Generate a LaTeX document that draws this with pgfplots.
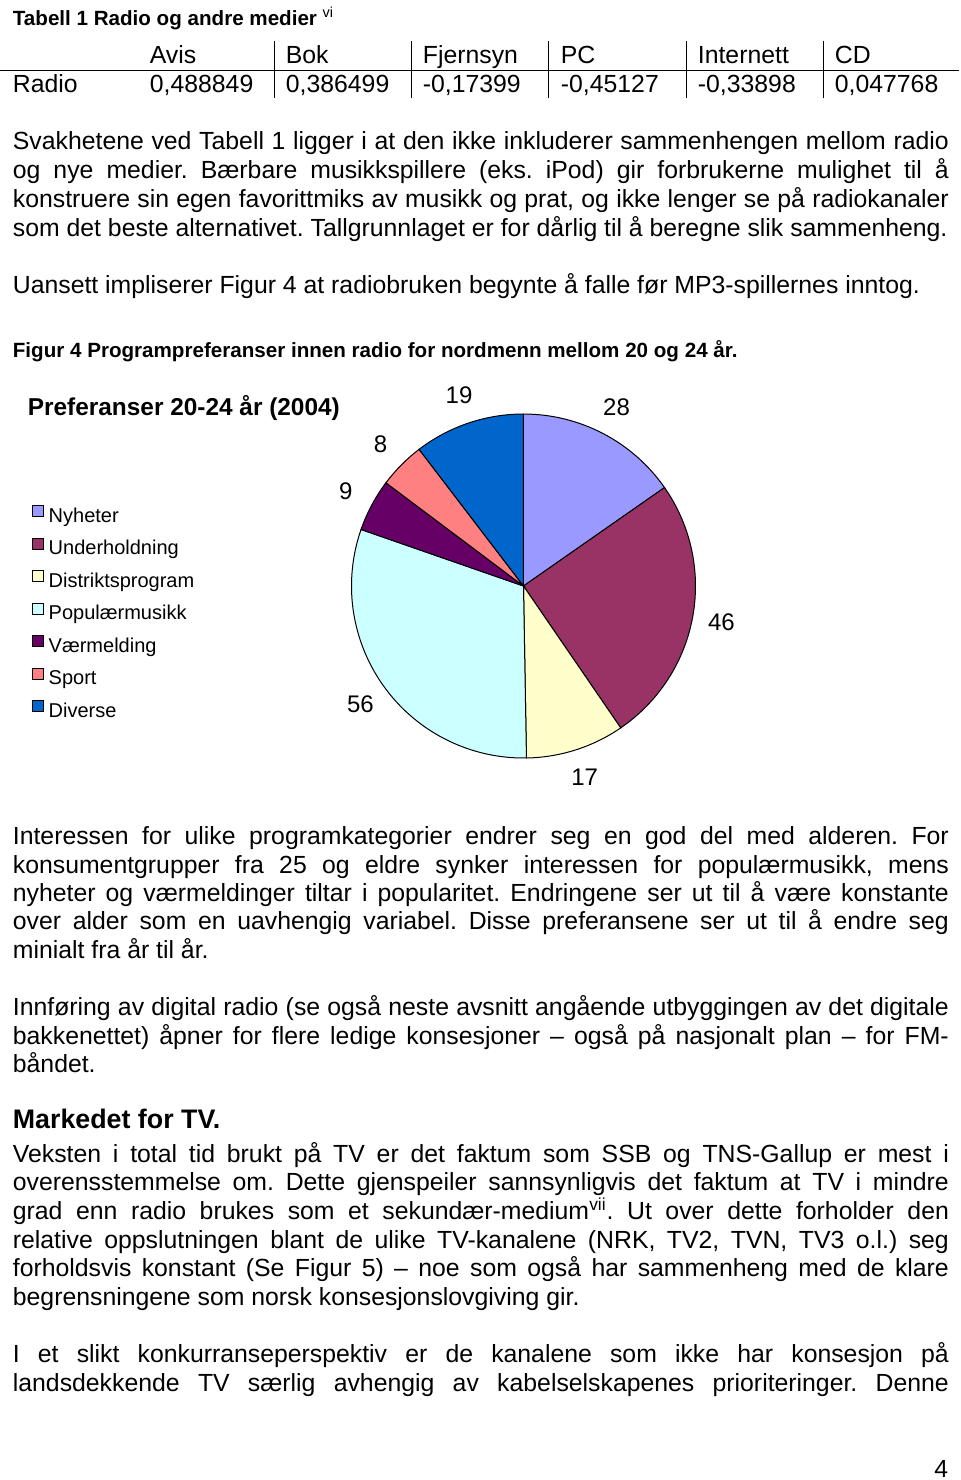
\documentclass[border=0pt]{standalone}
\usepackage{fontspec}
\setmainfont{Liberation Sans}
\usepackage{pgfplots}
\usepackage{pgfplotstable}
\pgfplotsset{compat=1.18}
\frenchspacing

\definecolor{nyh}{HTML}{9999FF}
\definecolor{und}{HTML}{993366}
\definecolor{dis}{HTML}{FFFFCC}
\definecolor{pop}{HTML}{CCFFFF}
\definecolor{vaer}{HTML}{660066}
\definecolor{sport}{HTML}{FF8080}
\definecolor{divers}{HTML}{0066CC}

\newcommand\bodyfont{\fontsize{12.4}{14}\selectfont}
\newcommand\capfont{\fontsize{10.3}{12}\selectfont\bfseries}
\newcommand\pielab{\fontsize{12}{14}\selectfont}
% one text line, baseline at y (page pixels)
\newcommand\jline[2]{\node[anchor=base west,inner sep=0pt,font=\bodyfont] at (12,#1) {\makebox[468pt][s]{#2}};}
\newcommand\tline[2]{\node[anchor=base west,inner sep=0pt,font=\bodyfont] at (12,#1) {#2};}

% Figur 4: preferanser 20-24 aar (2004)
\pgfplotstableread{
kat verdi farge
Nyheter 28 nyh
Underholdning 46 und
Distriktsprogram 17 dis
Populærmusikk 56 pop
Værmelding 9 vaer
Sport 8 sport
Diverse 19 divers
}\piedata

\gdef\total{0}
\foreach \i in {0,...,6}{%
  \pgfplotstablegetelem{\i}{verdi}\of\piedata
  \xdef\total{\fpeval{\total+\pgfplotsretval}}}

% build the slices and legend entries from the table (clockwise from 12 o'clock)
\gdef\cum{0}
\gdef\pieslices{}
\gdef\pielegend{}
\foreach \i in {0,...,6}{%
  \pgfplotstablegetelem{\i}{verdi}\of\piedata \let\pv\pgfplotsretval
  \pgfplotstablegetelem{\i}{farge}\of\piedata \let\pc\pgfplotsretval
  \pgfplotstablegetelem{\i}{kat}\of\piedata \let\pk\pgfplotsretval
  \edef\sa{\fpeval{round(90-\cum/\total*360,4)}}%
  \edef\ea{\fpeval{round(\sa-\pv/\total*360,4)}}%
  \edef\ma{\fpeval{(\sa+\ea)/2}}%
  \edef\xs{\fpeval{round(cosd(\sa),5)}}%
  \edef\ys{\fpeval{round(sind(\sa),5)}}%
  \edef\xl{\fpeval{round(1.17*cosd(\ma),5)}}%
  \edef\yl{\fpeval{round(1.17*sind(\ma),5)}}%
  \xdef\cum{\fpeval{\cum+\pv}}%
  \xdef\pieslices{\unexpanded\expandafter{\pieslices}%
    \noexpand\filldraw[fill=\pc,draw=black,line width=0.5pt] (axis cs:0,0) -- (axis cs:\xs,\ys)
      arc[start angle=\sa,end angle=\ea,radius=86pt] -- cycle;
    \noexpand\node[font=\noexpand\pielab] at (axis cs:\xl,\yl) {\pv};}%
  \xdef\pielegend{\unexpanded\expandafter{\pielegend}%
    \noexpand\addlegendimage{fill=\pc}\noexpand\addlegendentry{\pk}}%
}

\begin{document}
\begin{tikzpicture}[x=0.5pt,y=-0.5pt]
\fill[white] (0,0) rectangle (960,1480);

% Tabell 1
\node[anchor=base west,inner sep=0pt,font=\capfont] at (12,25) {Tabell 1 Radio og andre medier \textsuperscript{\mdseries vi}};
\foreach \x/\h/\v in {149/Avis/{0,488849},285/Bok/{0,386499},422/Fjernsyn/{-0,17399},560/PC/{-0,45127},697/Internett/{-0,33898},834/CD/{0,047768}}{
  \node[anchor=base west,inner sep=0pt,font=\bodyfont] at (\x,63) {\h};
  \node[anchor=base west,inner sep=0pt,font=\bodyfont] at (\x,92) {\v};
}
\node[anchor=base west,inner sep=0pt,font=\bodyfont] at (12,92) {Radio};
\draw[line width=0.5pt] (0,70) -- (958,70);
\foreach \x in {274,411,548,686,823} \draw[line width=0.5pt] (\x,41) -- (\x,98);

\jline{149}{Svakhetene ved Tabell 1 ligger i at den ikke inkluderer sammenhengen mellom radio}
\jline{178}{og nye medier. Bærbare musikkspillere (eks. iPod) gir forbrukerne mulighet til å}
\jline{207}{konstruere sin egen favorittmiks av musikk og prat, og ikke lenger se på radiokanaler}
\tline{236}{som det beste alternativet. Tallgrunnlaget er for dårlig til å beregne slik sammenheng.}
\tline{293}{Uansett impliserer Figur 4 at radiobruken begynte å falle før MP3-spillernes inntog.}

\node[anchor=base west,inner sep=0pt,font=\capfont] at (12,357) {Figur 4 Programpreferanser innen radio for nordmenn mellom 20 og 24 år.};
\node[anchor=base west,inner sep=0pt,font=\fontsize{12.2}{14}\selectfont\bfseries] at (27,415) {Preferanser 20-24 år (2004)};

\begin{axis}[
  at={(261.5pt,-293pt)}, anchor=origin,
  scale only axis, width=172pt, height=172pt,
  xmin=-1, xmax=1, ymin=-1, ymax=1,
  hide axis, clip=false,
  legend image code/.code={\draw[#1,draw=black,line width=0.5pt] (0pt,0pt) rectangle (5.5pt,5.5pt);},
  legend cell align=left,
  legend style={at={(-0.9302,0.7355)}, anchor=north west, draw=none, fill=none,
    inner sep=0pt, row sep=5.25pt, column sep=2.4pt,
    font=\fontsize{10}{12}\selectfont,
    nodes={inner sep=0pt, text height=8pt, text depth=2.5pt}},
]
\pieslices
\pielegend
\end{axis}

\jline{844}{Interessen for ulike programkategorier endrer seg en god del med alderen. For}
\jline{873}{konsumentgrupper fra 25 og eldre synker interessen for populærmusikk, mens}
\jline{901}{nyheter og værmeldinger tiltar i popularitet. Endringene ser ut til å være konstante}
\jline{929}{over alder som en uavhengig variabel. Disse preferansene ser ut til å endre seg}
\tline{958}{minialt fra år til år.}

\jline{1015}{Innføring av digital radio (se også neste avsnitt angående utbyggingen av det digitale}
\jline{1044}{bakkenettet) åpner for flere ledige konsesjoner – også på nasjonalt plan – for FM-}
\tline{1072}{båndet.}

\node[anchor=base west,inner sep=0pt,font=\fontsize{13.4}{16}\selectfont\bfseries] at (12,1128) {Markedet for TV.};

\jline{1162}{Veksten i total tid brukt på TV er det faktum som SSB og TNS-Gallup er mest i}
\jline{1190}{overensstemmelse om. Dette gjenspeiler sannsynligvis det faktum at TV i mindre}
\jline{1219}{grad enn radio brukes som et sekundær-medium\textsuperscript{vii}. Ut over dette forholder den}
\jline{1248}{relative oppslutningen blant de ulike TV-kanalene (NRK, TV2, TVN, TV3 o.l.) seg}
\jline{1276}{forholdsvis konstant (Se Figur 5) – noe som også har sammenheng med de klare}
\tline{1305}{begrensningene som norsk konsesjonslovgiving gir.}

\jline{1362}{I et slikt konkurranseperspektiv er de kanalene som ikke har konsesjon på}
\jline{1391}{landsdekkende TV særlig avhengig av kabelselskapenes prioriteringer. Denne}

\node[anchor=base east,inner sep=0pt,font=\bodyfont] at (948,1477) {4};
\end{tikzpicture}
\end{document}
